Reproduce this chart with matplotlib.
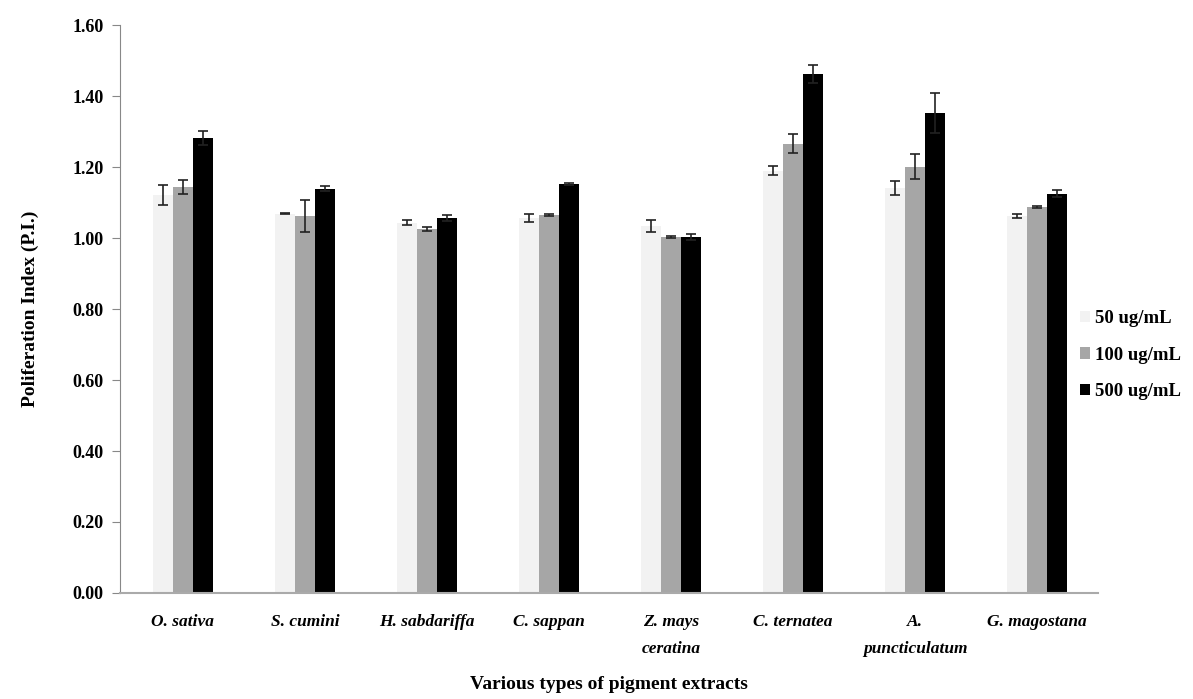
import matplotlib
matplotlib.use("Agg")
import matplotlib.pyplot as plt
import numpy as np

# extracts and concentrations
extracts = ["O. sativa", "S. cumini", "H. sabdariffa", "C. sappan",
            "Z. mays\nceratina", "C. ternatea", "A.\npuncticulatum", "G. magostana"]
doses = ["50 ug/mL", "100 ug/mL", "500 ug/mL"]

pi_50 = [1.122, 1.069, 1.043, 1.057, 1.034, 1.190, 1.142, 1.062]
pi_100 = [1.145, 1.062, 1.026, 1.065, 1.003, 1.266, 1.201, 1.087]
pi_500 = [1.282, 1.139, 1.056, 1.152, 1.003, 1.463, 1.352, 1.125]

err_50 = [0.028, 0.001, 0.007, 0.012, 0.018, 0.012, 0.020, 0.005]
err_100 = [0.020, 0.045, 0.005, 0.003, 0.002, 0.026, 0.035, 0.003]
err_500 = [0.020, 0.007, 0.008, 0.003, 0.008, 0.026, 0.057, 0.010]

colores = ["#f2f2f2", "#a6a6a6", "#000000"]

plt.rcParams['font.family'] = ['Liberation Serif', 'DejaVu Serif']

fig = plt.figure(figsize=(11.93, 6.99), dpi=100)
ax = fig.add_axes([0.1006, 0.1517, 0.8198, 0.8123])

x = np.arange(len(extracts))
ancho = 0.164
series = [pi_50, pi_100, pi_500]
errores = [err_50, err_100, err_500]
for k in range(3):
    ax.bar(x + (k - 1) * ancho, series[k], ancho, color=colores[k],
           label=doses[k], yerr=errores[k], capsize=3.5,
           error_kw=dict(ecolor="#222222", elinewidth=1.2, capthick=1.2))

ax.set_xlim(-0.516, len(extracts) - 0.5)
ax.set_ylim(0, 1.6)
ax.set_yticks(np.arange(0, 1.61, 0.2))
ax.set_yticklabels([f"{v:.2f}" for v in np.arange(0, 1.61, 0.2)],
                   fontsize=13, fontweight="bold")
ax.set_xticks(x)
ax.set_xticklabels(extracts, fontsize=12.5, fontstyle="italic",
                   fontweight="bold", va="top", linespacing=1.9)
ax.tick_params(axis="x", length=0, pad=15)
ax.tick_params(axis="y", length=6, color="#888888", pad=6)

for s in ["top", "right"]:
    ax.spines[s].set_visible(False)
ax.spines["left"].set_color("#888888")
ax.spines["bottom"].set_color("#aaaaaa")
ax.spines["bottom"].set_linewidth(1.5)

ax.set_ylabel("Poliferation Index (P.I.)", fontsize=14, fontweight="bold",
              labelpad=24)
ax.set_xlabel("Various types of pigment extracts", fontsize=14,
              fontweight="bold", labelpad=14)

ax.legend(loc="center left", bbox_to_anchor=(0.905, 0.492),
          bbox_transform=fig.transFigure, frameon=False,
          prop={"size": 13.5, "weight": "bold"}, handlelength=0.55,
          handleheight=0.55, handletextpad=0.25, labelspacing=1.05,
          borderaxespad=0.0, borderpad=0.0)

fig.savefig("out.png", dpi=100)
